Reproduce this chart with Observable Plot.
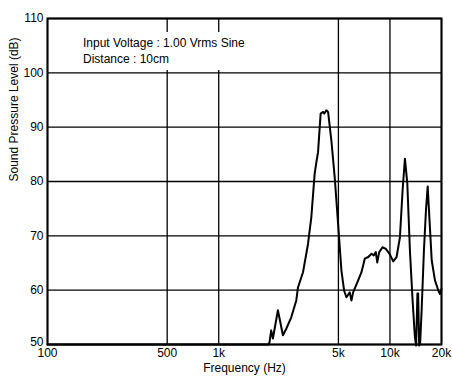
<!DOCTYPE html>
<html>
<head>
<meta charset="utf-8">
<script src="https://cdn.jsdelivr.net/npm/d3@7"></script>
<script src="https://cdn.jsdelivr.net/npm/@observablehq/plot@0.6"></script>
<style>
  html, body { margin: 0; padding: 0; background: #fff; }
  #wrap { position: relative; width: 452px; height: 376px; font-family: "Liberation Sans", Arial, sans-serif; }
  #note { position: absolute; left: 79px; top: 32px; width: 192px; height: 38px; background: #fff;
          font-size: 12px; line-height: 15.5px; color: #000; padding-top: 4px; padding-left: 4px; box-sizing: border-box; }
</style>
</head>
<body>
<div id="wrap"></div>
<script>
// Frequency response data (Hz, dB SPL)
const freqs = [100, 1000, 1950, 1979, 2025, 2072, 2216, 2371, 2480, 2652, 2837, 2903, 3106, 3322, 3473, 3632, 3716, 3802, 3937, 4067, 4140, 4253, 4352, 4550, 4756, 4979, 5207, 5399, 5569, 5822, 5957, 6095, 6520, 6818, 7129, 7464, 7803, 8049, 8269, 8426, 8656, 9049, 9463, 9987, 10450, 10930, 11430, 11850, 12230, 12630, 13080, 13560, 13990, 14220, 14470, 14610, 14810, 15010, 15310, 15790, 16230, 16610, 16990, 17530, 18320, 19190, 19600, 20000];
const spl   = [50, 50, 50, 50.4, 52.6, 51.1, 56.3, 51.7, 52.9, 55.0, 58.1, 60.5, 63.3, 68.5, 73.4, 81.4, 83.5, 85.4, 92.5, 92.8, 92.5, 93.1, 92.8, 87.5, 80.8, 72.2, 63.6, 59.9, 58.7, 59.6, 58.1, 59.6, 61.8, 63.3, 65.8, 66.1, 66.7, 66.4, 67.0, 65.1, 67.0, 67.9, 67.6, 66.6, 65.3, 66.1, 69.7, 78.3, 84.2, 79.6, 67.3, 58.1, 51.3, 49.8, 59.4, 59.4, 49.8, 50.2, 56.3, 67.3, 74.7, 79.1, 73.4, 65.5, 61.8, 59.9, 59.3, 60.2];

const xTicks = [100, 500, 1000, 5000, 10000, 20000];
const xTickLabels = ["100", "500", "1k", "5k", "10k", "20k"];
const yTicks = [50, 60, 70, 80, 90, 100, 110];
const xTitle = "Frequency (Hz)";
const yTitle = "Sound Pressure Level (dB)";
const noteLines = ["Input Voltage : 1.00 Vrms Sine", "Distance : 10cm"];

const data = freqs.map((f, i) => ({f, db: spl[i]}));
const labelOf = new Map(xTicks.map((t, i) => [t, xTickLabels[i]]));
const yMin = yTicks[0];

const chart = Plot.plot({
  width: 452,
  height: 376,
  marginLeft: 47,
  marginRight: 11,
  marginTop: 18,
  marginBottom: 32,
  style: {fontFamily: "'Liberation Sans', Arial, sans-serif", fontSize: "12px", color: "#000", background: "#fff", overflow: "visible"},
  x: {type: "log", domain: [100, 20000], axis: null},
  y: {domain: [50, 110], axis: null},
  marks: [
    Plot.ruleX(xTicks, {x: d => d, stroke: "#000", strokeWidth: 1.3}),
    Plot.ruleY(yTicks, {y: d => d, stroke: "#000", strokeWidth: 1.3}),
    Plot.line(data, {x: "f", y: "db", stroke: "#000", strokeWidth: 2, strokeLinejoin: "round"}),
    Plot.frame({stroke: "#000", strokeWidth: 2}),
    // x tick labels
    Plot.text(xTicks, {x: d => d, frameAnchor: "bottom", dy: 4, lineAnchor: "top", text: d => labelOf.get(d), fontSize: 12}),
    // y tick labels
    Plot.text(yTicks.filter(d => d !== yMin), {y: d => d, frameAnchor: "left", dx: -4, textAnchor: "end", lineAnchor: "middle", text: d => String(d), fontSize: 12}),
    Plot.text(yTicks.filter(d => d === yMin), {y: d => d, frameAnchor: "left", dx: -4, dy: 1, textAnchor: "end", lineAnchor: "bottom", text: d => String(d), fontSize: 12}),
    // axis titles
    Plot.text([xTitle], {frameAnchor: "bottom", dy: 24, text: d => d, fontSize: 12, lineAnchor: "middle"}),
    Plot.text([yTitle], {frameAnchor: "left", dx: -33, rotate: -90, text: d => d, fontSize: 12, lineAnchor: "middle"})
  ]
});

const wrap = document.getElementById("wrap");
wrap.appendChild(chart);
const note = document.createElement("div");
note.id = "note";
note.innerHTML = noteLines.map(s => `<div>${s}</div>`).join("");
wrap.appendChild(note);
</script>
</body>
</html>
